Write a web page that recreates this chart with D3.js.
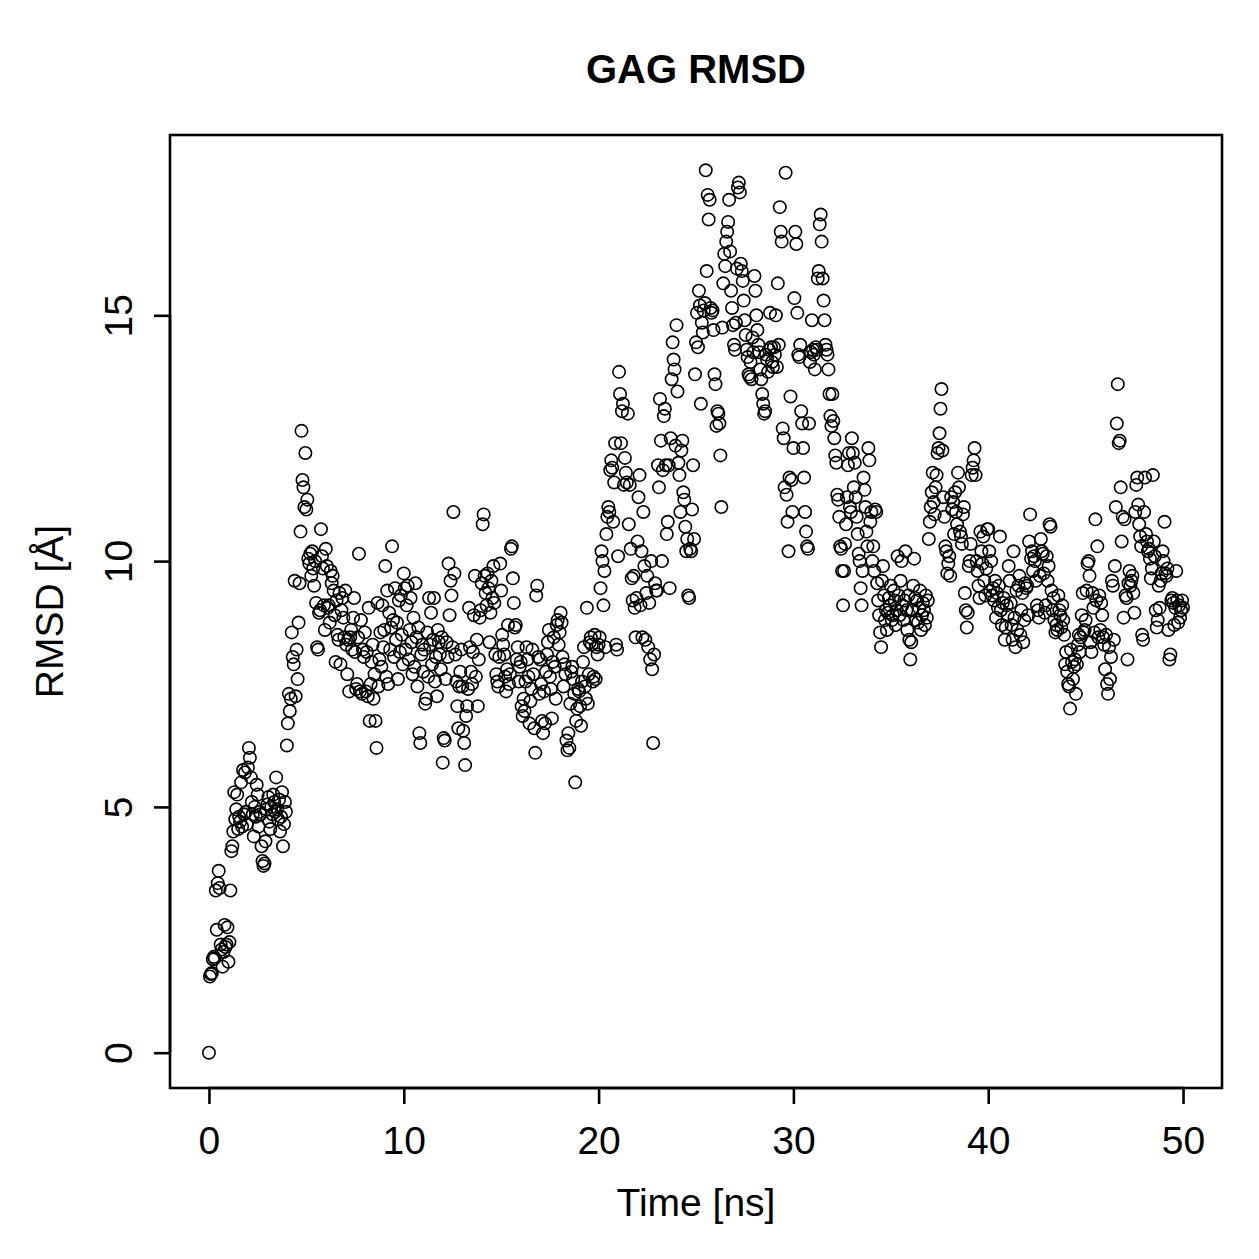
<!DOCTYPE html>
<html><head><meta charset="utf-8">
<script src="https://cdn.jsdelivr.net/npm/d3@7"></script>
<style>body{margin:0;background:#fff}svg{display:block}text{font-family:"Liberation Sans",Arial,Helvetica,sans-serif}</style>
</head><body>
<script>
const chartTitle = "GAG RMSD";
const xLabel = "Time [ns]";
const yLabel = "RMSD [Å]";
const timeStart = 0, timeStep = 0.05; // ns per frame
const xTicks = [0, 10, 20, 30, 40, 50];
const yTicks = [0, 5, 10, 15];
// RMSD values, one row per ns (20 frames each)
const rmsd = [
0.00,1.55,1.60,1.62,1.90,1.95,1.92,3.30,2.50,3.45,3.70,3.35,2.20,2.10,1.75,2.05,2.60,2.15,2.20,2.55,
1.85,2.25,3.30,4.10,4.20,4.50,5.30,4.75,4.95,5.25,4.55,4.80,4.70,5.50,4.60,5.75,4.85,5.70,4.90,4.65,
5.80,6.20,6.00,5.60,5.10,4.85,4.40,5.00,4.80,5.45,5.25,4.60,4.90,4.85,4.20,3.90,3.80,3.85,4.30,4.95,
5.05,5.20,4.70,4.55,5.00,4.85,5.25,5.10,4.90,5.60,4.95,4.75,5.15,4.50,4.80,5.30,4.20,4.65,5.10,4.90,
6.25,6.70,7.30,6.95,7.20,8.55,8.05,7.90,9.60,7.25,8.20,7.60,8.75,9.55,10.60,12.65,11.65,11.50,11.10,12.20,
11.05,11.25,10.05,9.95,10.15,9.70,10.20,9.85,9.50,10.00,9.15,8.25,8.20,8.95,9.00,10.65,10.10,9.85,9.10,8.60,
10.25,9.90,9.05,9.10,8.75,9.80,9.55,9.70,9.40,8.90,7.95,9.20,8.50,8.40,9.35,7.90,9.00,9.25,8.85,8.45,
9.40,8.30,7.70,8.40,7.35,8.45,8.60,8.20,8.85,9.25,8.15,7.40,7.50,8.45,10.15,7.35,8.80,7.30,8.20,8.05,
8.55,7.35,8.15,7.25,9.05,6.75,7.50,7.95,8.30,7.20,7.70,6.75,6.20,9.15,7.45,8.00,8.55,7.85,9.10,8.25,
8.60,9.90,7.65,9.40,7.50,8.95,8.20,8.65,10.30,8.80,8.05,9.45,8.40,8.75,7.60,9.20,8.15,9.30,8.50,7.90,
9.75,9.45,8.20,9.10,9.50,8.00,8.60,9.25,8.35,7.70,8.85,7.85,9.55,8.45,7.45,8.65,6.50,6.30,8.10,8.30,
7.75,8.20,7.10,7.20,8.55,7.65,9.25,8.30,8.95,7.90,8.40,9.25,7.55,8.05,7.25,8.60,8.35,8.10,7.80,8.45,
5.90,6.40,6.35,7.60,8.35,8.05,9.95,8.90,9.60,9.30,8.25,11.00,9.75,8.10,7.55,7.05,6.60,7.45,7.75,8.20,
7.45,6.55,6.30,5.85,6.85,7.05,7.40,9.05,8.25,7.75,7.50,8.15,8.90,9.70,7.65,8.40,7.05,8.00,8.85,9.00,
9.55,10.75,10.95,9.70,9.35,9.10,9.75,9.45,8.35,8.95,9.60,9.25,9.90,9.15,8.10,7.70,7.55,7.45,8.05,9.95,
9.40,8.50,8.30,8.10,7.65,7.35,7.80,8.70,7.50,7.70,10.25,10.30,9.65,9.15,8.65,8.70,8.00,8.25,7.55,7.85,
7.95,7.05,6.85,7.20,6.95,7.55,8.25,8.00,7.65,6.70,7.15,7.40,8.20,7.70,6.60,6.10,9.30,9.50,8.05,7.30,
8.00,7.50,6.75,6.50,7.35,6.70,7.75,8.10,8.35,8.60,7.65,7.40,6.80,7.95,8.45,7.85,7.20,8.70,8.80,8.30,
8.55,8.95,8.75,8.05,7.45,7.90,7.70,6.35,6.15,6.50,6.20,7.10,7.75,7.85,7.60,7.30,5.50,6.75,7.00,7.40,
7.35,7.05,6.65,7.55,7.95,8.25,7.45,7.20,9.05,7.10,7.70,8.35,8.45,8.30,7.55,7.65,8.50,7.60,8.25,8.10,
8.30,8.45,9.45,10.20,10.00,9.10,9.80,8.25,10.55,10.90,11.10,11.00,11.85,12.05,11.90,10.80,11.60,12.40,8.30,8.20,
10.10,13.85,13.40,12.40,13.05,13.20,11.55,12.10,11.80,11.60,13.00,10.75,11.55,10.25,9.65,9.20,9.70,9.05,8.45,9.25,
10.40,11.30,11.75,9.10,10.20,8.45,11.00,9.90,8.40,9.35,9.70,8.25,9.15,8.00,10.00,7.80,6.30,8.10,9.55,9.40,
9.40,11.95,11.50,13.30,12.45,10.00,11.85,12.95,13.10,11.95,10.55,10.80,11.95,9.45,12.50,13.70,14.45,14.10,13.90,12.35,
14.80,13.45,12.00,11.75,11.00,12.25,12.45,11.40,11.25,10.70,10.20,10.45,9.30,9.25,10.25,10.20,11.05,11.95,10.45,13.80,
14.45,15.05,14.35,15.50,15.20,13.20,14.85,14.65,15.10,15.25,17.95,15.90,17.45,16.95,17.35,15.15,15.05,15.10,14.70,13.80,
13.60,12.75,13.05,13.00,12.80,12.15,11.10,14.75,15.65,16.25,16.00,16.50,16.70,16.90,17.35,16.30,15.50,15.15,14.80,14.40,
14.30,14.85,15.95,17.60,17.70,17.50,16.05,15.90,15.70,15.30,14.90,14.60,14.30,14.15,13.80,13.75,14.05,13.70,14.55,14.25,
15.80,15.50,15.00,14.70,14.40,14.25,13.90,13.70,13.40,13.20,13.00,13.05,14.20,14.10,13.85,14.30,15.05,14.35,14.05,13.95,
14.35,14.20,15.00,13.95,15.65,14.40,17.20,16.70,16.50,12.70,12.50,11.50,17.90,11.35,10.80,10.20,11.70,13.35,11.65,11.00,
12.30,15.35,16.70,16.45,15.05,14.20,14.15,14.40,13.05,12.80,12.30,11.70,11.00,10.60,10.30,10.25,12.80,14.05,14.25,14.90,
14.30,14.20,13.90,14.35,14.30,15.75,15.90,16.85,17.05,16.50,15.75,15.30,14.90,14.40,14.30,14.20,13.90,13.40,12.95,12.75,
13.40,12.85,12.50,12.15,12.00,11.35,11.25,10.90,10.30,10.25,9.80,9.10,9.80,10.35,10.75,11.30,11.95,12.20,11.10,11.00,
12.50,12.20,11.50,12.00,11.30,10.90,10.55,10.15,10.00,9.45,9.10,9.80,11.70,11.45,11.10,10.60,10.30,12.30,12.05,10.80,
11.00,10.00,10.30,9.80,11.05,11.00,9.55,9.20,8.90,8.55,8.25,9.60,9.90,9.30,8.80,9.00,8.60,8.95,9.25,9.10,
9.50,8.80,8.90,9.40,9.20,8.70,9.00,10.10,9.30,8.90,9.60,10.00,9.10,8.80,9.20,10.20,9.00,8.60,9.30,8.40,
8.00,8.35,9.00,9.50,10.05,9.25,8.80,9.20,8.75,9.05,9.40,8.60,8.90,9.15,9.00,8.70,9.30,8.85,9.20,10.45,
10.80,11.10,11.40,11.80,11.20,10.95,11.50,11.75,12.20,12.30,12.60,13.10,13.50,12.25,11.30,10.90,10.30,10.20,9.75,9.95,
10.10,9.70,11.30,11.05,11.20,10.55,11.40,11.00,10.75,11.80,11.50,10.60,10.50,10.35,10.95,11.10,9.35,9.00,8.65,8.95,
9.90,10.00,10.35,11.75,11.90,12.05,12.30,11.75,10.00,9.80,9.50,9.25,10.60,10.20,9.95,10.50,9.60,9.30,9.85,10.65,
10.65,10.20,9.40,10.00,9.30,9.45,9.20,9.60,8.85,9.35,9.05,9.50,10.50,9.00,8.70,9.15,9.25,8.40,8.65,9.10,
8.90,9.90,9.60,9.15,8.70,8.40,10.20,8.85,8.25,9.40,8.60,9.50,9.70,8.50,9.00,9.35,8.35,8.80,9.55,9.45,
9.50,8.90,10.40,10.95,10.05,10.20,9.80,10.10,10.00,9.60,9.10,9.00,8.85,9.70,10.45,10.20,10.15,9.75,8.95,9.10,
10.10,9.60,9.90,10.75,10.70,9.40,9.00,9.25,8.80,8.55,8.70,8.60,9.30,9.00,8.90,8.65,9.10,8.80,8.50,7.90,
8.15,7.75,7.50,7.45,7.00,8.20,7.95,7.60,7.85,8.00,7.30,7.90,8.30,8.50,8.15,8.45,8.90,9.35,8.55,8.60,
8.80,9.40,9.95,10.00,9.70,8.35,8.15,9.35,9.05,8.55,10.85,9.20,10.30,8.45,9.30,8.60,9.15,8.90,8.45,8.30,
7.80,8.50,7.50,7.30,8.25,7.60,8.05,9.60,9.50,8.40,9.90,11.10,12.80,13.60,12.40,12.45,11.50,10.40,10.90,8.85,
10.85,9.30,9.25,8.00,9.55,9.80,9.50,9.60,9.70,9.35,8.95,11.00,11.55,11.70,11.15,10.75,10.50,10.30,8.50,8.40,
11.00,11.70,10.55,10.40,10.20,10.25,10.05,9.65,9.85,11.75,10.40,10.10,9.00,8.65,8.80,9.50,9.05,9.60,9.75,10.20,
10.00,10.80,9.75,9.70,9.85,8.60,8.00,8.10,9.20,9.25,9.15,8.70,9.05,9.80,9.20,8.75,9.10,8.85,9.00,9.20,
9.05
];
const time = rmsd.map((v, i) => +(timeStart + i * timeStep).toFixed(2));

const W = 1259, H = 1259;
const M = {left: 170, right: 1222, top: 135, bottom: 1088};
const svg = d3.select("body").append("svg").attr("width", W).attr("height", H);

function rExt(ext){ const d = ext[1]-ext[0]; return [ext[0]-0.04*d, ext[1]+0.04*d]; }
const x = d3.scaleLinear().domain(rExt(d3.extent(time))).range([M.left, M.right]);
const y = d3.scaleLinear().domain(rExt(d3.extent(rmsd))).range([M.bottom, M.top]);

// points
svg.append("g").selectAll("circle").data(rmsd).join("circle")
  .attr("cx", (d,i) => x(time[i])).attr("cy", d => y(d)).attr("r", 6.2)
  .attr("fill", "none").attr("stroke", "#000").attr("stroke-width", 1.6);

// box
svg.append("rect").attr("x", M.left).attr("y", M.top)
  .attr("width", M.right-M.left).attr("height", M.bottom-M.top)
  .attr("fill", "none").attr("stroke", "#000").attr("stroke-width", 2.6);

// x axis
const xa = svg.append("g").attr("transform", `translate(0,${M.bottom})`)
  .call(d3.axisBottom(x).tickValues(xTicks).tickSize(16).tickPadding(22).tickSizeOuter(0));
xa.select(".domain").attr("d", `M${x(xTicks[0])},0H${x(xTicks[xTicks.length-1])}`).attr("stroke-width", 2.6);
xa.selectAll(".tick line").attr("stroke-width", 2.6);
xa.selectAll("text").attr("font-size", 39).attr("fill", "#000");

// y axis
const ya = svg.append("g").attr("transform", `translate(${M.left},0)`)
  .call(d3.axisLeft(y).tickValues(yTicks).tickSize(16).tickPadding(14).tickSizeOuter(0));
ya.select(".domain").attr("d", `M0,${y(yTicks[0])}V${y(yTicks[yTicks.length-1])}`).attr("stroke-width", 2.6);
ya.selectAll(".tick line").attr("stroke-width", 2.6);
ya.selectAll("text").attr("font-size", 39).attr("fill", "#000")
  .attr("transform", "rotate(-90)").attr("x", 0).attr("y", -38)
  .attr("text-anchor", "middle").attr("dy", "0");

// titles
svg.append("text").attr("x", (M.left+M.right)/2).attr("y", 83)
  .attr("text-anchor", "middle").attr("font-size", 40).attr("font-weight", "bold").text(chartTitle);
svg.append("text").attr("x", (M.left+M.right)/2).attr("y", 1216)
  .attr("text-anchor", "middle").attr("font-size", 39).text(xLabel);
svg.append("text").attr("transform", `translate(63,${(M.top+M.bottom)/2}) rotate(-90)`)
  .attr("text-anchor", "middle").attr("font-size", 39).text(yLabel);
</script>
</body></html>
